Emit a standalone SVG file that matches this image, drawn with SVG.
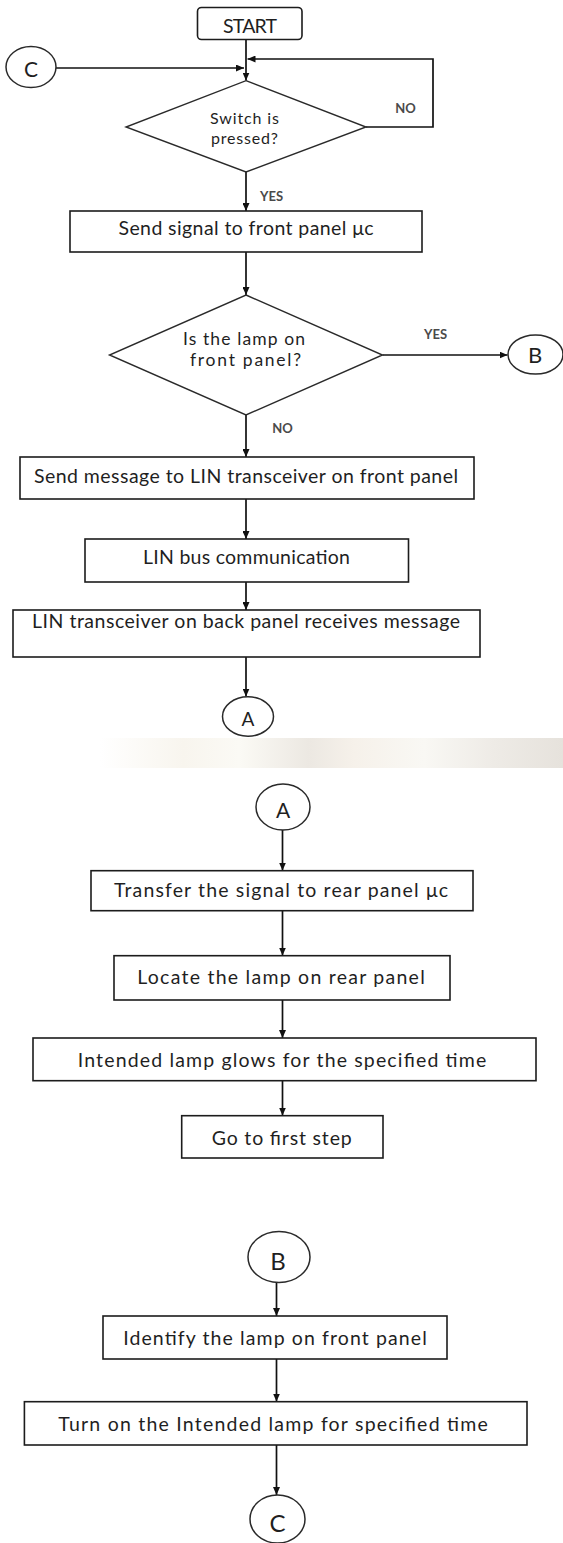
<svg xmlns="http://www.w3.org/2000/svg" width="563" height="1543" viewBox="0 0 563 1543">
<style>
.box{fill:#fff;stroke:#1c1c1c;stroke-width:1.6}
.dia{fill:#fff;stroke:#2a2a2a;stroke-width:1.4}
.circ{fill:#fff;stroke:#2a2a2a;stroke-width:1.5}
.t{font-family:Lato,"Liberation Sans",sans-serif;font-size:19.5px;fill:#1f1f1f;text-anchor:middle;dominant-baseline:central}
.ds{font-size:16px}
.dm{font-size:17.5px}
.lbl{font-family:Lato,"Liberation Sans",sans-serif;font-size:13px;font-weight:bold;fill:#4a4a4a;text-anchor:middle;dominant-baseline:central}
.con{fill:none;stroke:#111;stroke-width:1.7}
</style>
<defs>
<marker id="arr" viewBox="0 0 8 7" refX="8" refY="3.5" markerWidth="8" markerHeight="7" markerUnits="userSpaceOnUse" orient="auto">
<path d="M0,0 L8,3.5 L0,7 z" fill="#111"/>
</marker>
<linearGradient id="band" x1="0" y1="0" x2="1" y2="0">
<stop offset="0" stop-color="#ffffff"/>
<stop offset="0.18" stop-color="#f8f5ee"/>
<stop offset="0.3" stop-color="#fbfaf5"/>
<stop offset="0.45" stop-color="#ece8e2"/>
<stop offset="0.55" stop-color="#f6f1ea"/>
<stop offset="0.7" stop-color="#f9f8f4"/>
<stop offset="0.85" stop-color="#eeebe6"/>
<stop offset="1" stop-color="#e6e2dc"/>
</linearGradient>
</defs>
<rect width="563" height="1543" fill="#fff"/>
<rect id="bg-band" x="100" y="738" width="463" height="30" fill="url(#band)"/>

<g id="connectors">
<line class="con" x1="246" y1="39.5" x2="246" y2="80.5" marker-end="url(#arr)"/>
<line class="con" x1="56" y1="68" x2="244" y2="68" marker-end="url(#arr)"/>
<polyline class="con" points="366,127 433,127 433,59 247.5,59" marker-end="url(#arr)"/>
<line class="con" x1="246" y1="172" x2="246" y2="211" marker-end="url(#arr)"/>
<line class="con" x1="246" y1="252" x2="246" y2="295" marker-end="url(#arr)"/>
<line class="con" x1="382.5" y1="355" x2="507.5" y2="355" marker-end="url(#arr)"/>
<line class="con" x1="246" y1="415" x2="246" y2="457" marker-end="url(#arr)"/>
<line class="con" x1="246" y1="499" x2="246" y2="539" marker-end="url(#arr)"/>
<line class="con" x1="246" y1="582" x2="246" y2="610" marker-end="url(#arr)"/>
<line class="con" x1="246" y1="657" x2="246" y2="696.5" marker-end="url(#arr)"/>
<line class="con" x1="282.5" y1="830" x2="282.5" y2="870.5" marker-end="url(#arr)"/>
<line class="con" x1="282.5" y1="910.5" x2="282.5" y2="955.5" marker-end="url(#arr)"/>
<line class="con" x1="282.5" y1="1000" x2="282.5" y2="1038" marker-end="url(#arr)"/>
<line class="con" x1="282.5" y1="1080.5" x2="282.5" y2="1115.5" marker-end="url(#arr)"/>
<line class="con" x1="276.5" y1="1282.5" x2="276.5" y2="1316" marker-end="url(#arr)"/>
<line class="con" x1="276.5" y1="1359" x2="276.5" y2="1401.5" marker-end="url(#arr)"/>
<line class="con" x1="276.5" y1="1445" x2="276.5" y2="1495" marker-end="url(#arr)"/>
<text class="lbl" x="405.5" y="108">NO</text>
<text class="lbl" x="271.5" y="196">YES</text>
<text class="lbl" x="435.5" y="334">YES</text>
<text class="lbl" x="282.5" y="428">NO</text>
</g>

<g id="start">
<rect class="box" x="197.5" y="7.5" width="104.5" height="32" rx="4"/>
<text class="t" x="250" y="25" textLength="54">START</text>
</g>
<g id="conn-c-top">
<ellipse class="circ" cx="31" cy="67" rx="25" ry="20.5"/>
<text class="t" x="31" y="68" style="font-size:21px">C</text>
</g>
<g id="switch-pressed">
<polygon class="dia" points="246,80.7 366,127 246,172 126,127"/>
<text class="t ds" x="244.5" y="117" textLength="69">Switch is</text>
<text class="t ds" x="244.5" y="137" textLength="67">pressed?</text>
</g>
<g id="send-signal">
<rect class="box" x="70" y="211" width="352" height="41"/>
<text class="t" x="246" y="227" textLength="255">Send signal to front panel μc</text>
</g>
<g id="lamp-front">
<polygon class="dia" points="246,295 382.5,355 246,415 109.5,355"/>
<text class="t dm" x="244" y="338" textLength="122">Is the lamp on</text>
<text class="t dm" x="245.5" y="359.5" textLength="111">front panel?</text>
</g>
<g id="conn-b-top">
<ellipse class="circ" cx="535.5" cy="354.5" rx="27.5" ry="19.5"/>
<text class="t" x="535" y="354" style="font-size:22px">B</text>
</g>
<g id="send-message">
<rect class="box" x="20" y="457" width="454" height="42"/>
<text class="t" x="246" y="475" textLength="424">Send message to LIN transceiver on front panel</text>
</g>
<g id="lin-bus">
<rect class="box" x="85" y="539" width="323.5" height="43"/>
<text class="t" x="246.5" y="556.7" textLength="207">LIN bus communication</text>
</g>
<g id="lin-back">
<rect class="box" x="13" y="610" width="467" height="47"/>
<text class="t" x="246" y="620" textLength="428">LIN transceiver on back panel receives message</text>
</g>
<g id="conn-a-top">
<ellipse class="circ" cx="248" cy="716.5" rx="25.5" ry="19.7"/>
<text class="t" x="248" y="718" style="font-size:19px">A</text>
</g>

<g id="conn-a">
<ellipse class="circ" cx="283" cy="807" rx="27" ry="23"/>
<text class="t" x="283" y="809" style="font-size:21px">A</text>
</g>
<g id="transfer-signal">
<rect class="box" x="91" y="870.7" width="382" height="40"/>
<text class="t" x="281" y="889.3" textLength="334">Transfer the signal to rear panel μc</text>
</g>
<g id="locate-lamp">
<rect class="box" x="114" y="955.7" width="336" height="44.3"/>
<text class="t" x="281" y="976.7" textLength="287.5">Locate the lamp on rear panel</text>
</g>
<g id="lamp-glows">
<rect class="box" x="33" y="1038" width="503" height="42.7"/>
<text class="t" x="282" y="1059.3" textLength="408.5">Intended lamp glows for the specified time</text>
</g>
<g id="go-first">
<rect class="box" x="181.7" y="1115.7" width="201.3" height="42.3"/>
<text class="t" x="281.7" y="1137" textLength="140">Go to first step</text>
</g>

<g id="conn-b">
<ellipse class="circ" cx="279" cy="1257" rx="31" ry="25.5"/>
<text class="t" x="278" y="1260.5" style="font-size:24px">B</text>
</g>
<g id="identify-lamp">
<rect class="box" x="103" y="1316" width="344" height="43"/>
<text class="t" x="275" y="1337.7" textLength="303.6">Identify the lamp on front panel</text>
</g>
<g id="turn-on">
<rect class="box" x="24.4" y="1401.7" width="502.6" height="43.3"/>
<text class="t" x="273" y="1423.3" textLength="429.5">Turn on the Intended lamp for specified time</text>
</g>
<g id="conn-c">
<ellipse class="circ" cx="277.5" cy="1519" rx="27.5" ry="24"/>
<text class="t" x="277.5" y="1522" style="font-size:24px">C</text>
</g>
</svg>
